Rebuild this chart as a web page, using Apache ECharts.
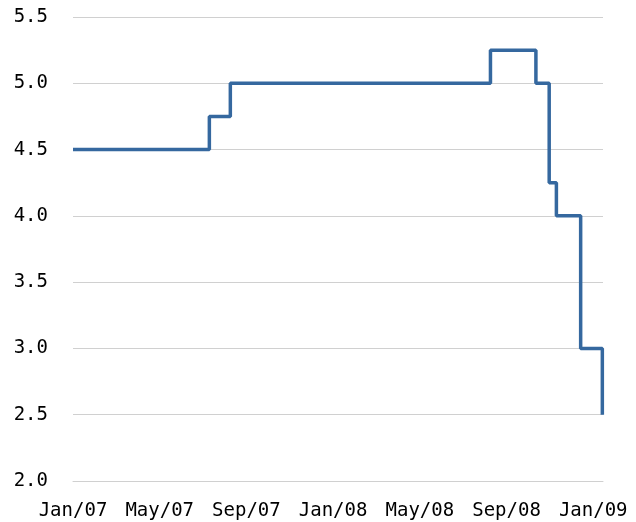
<!DOCTYPE html>
<html>
<head>
<meta charset="utf-8">
<script src="https://cdn.jsdelivr.net/npm/echarts@6/dist/echarts.min.js"></script>
<style>html,body{margin:0;padding:0;background:#fff}#c{width:636px;height:522px}</style>
</head>
<body>
<div id="c"></div>
<script>
// Step change dates and the rate in force from each date
const changeDates = ['2007-01-01', '2007-07-10', '2007-08-09', '2008-08-09', '2008-10-12', '2008-10-31', '2008-11-10', '2008-12-14', '2009-01-14'];
const rates = [4.5, 4.75, 5.0, 5.25, 5.0, 4.25, 4.0, 3.0, 2.5];
// x-axis tick labels, every 4 months from Jan/07
const tickLabels = ['Jan/07', 'May/07', 'Sep/07', 'Jan/08', 'May/08', 'Sep/08', 'Jan/09'];
const yTicks = [2.0, 2.5, 3.0, 3.5, 4.0, 4.5, 5.0, 5.5];

function monthIndex(s) {
  const [y, m, d] = s.split('-').map(Number);
  const dim = new Date(y, m, 0).getDate();
  return (y - 2007) * 12 + (m - 1) + (d - 1) / dim;
}
const seriesData = changeDates.map((d, i) => [monthIndex(d), rates[i]]);

const chart = echarts.init(document.getElementById('c'), null, {renderer: 'canvas'});
chart.setOption({
  animation: false,
  grid: {left: 73, right: 33, top: 17, bottom: 41, containLabel: false},
  xAxis: {
    type: 'value',
    min: 0,
    max: 24.45,
    interval: 4,
    axisLine: {show: true, lineStyle: {color: '#d0d0d0', width: 1}},
    axisTick: {show: false},
    splitLine: {show: false},
    axisLabel: {
      margin: 21,
      color: '#000',
      fontFamily: 'DejaVu Sans Mono',
      fontSize: 19,
      hideOverlap: false,
      showMaxLabel: false,
      formatter: v => {
        const r = Math.round(v);
        if (Math.abs(v - r) > 1e-6 || r % 4 !== 0) return '';
        return tickLabels[r / 4] || '';
      }
    }
  },
  yAxis: {
    type: 'value',
    min: yTicks[0],
    max: yTicks[yTicks.length - 1],
    interval: 0.5,
    axisLine: {show: false},
    axisTick: {show: false},
    splitLine: {show: true, lineStyle: {color: '#d0d0d0', width: 1}},
    axisLabel: {
      margin: 25,
      color: '#000',
      fontFamily: 'DejaVu Sans Mono',
      fontSize: 19,
      formatter: v => v.toFixed(1)
    }
  },
  series: [{
    type: 'line',
    step: 'end',
    data: seriesData,
    symbol: 'none',
    lineStyle: {color: '#35689F', width: 3.5}
  }]
});
</script>
</body>
</html>
